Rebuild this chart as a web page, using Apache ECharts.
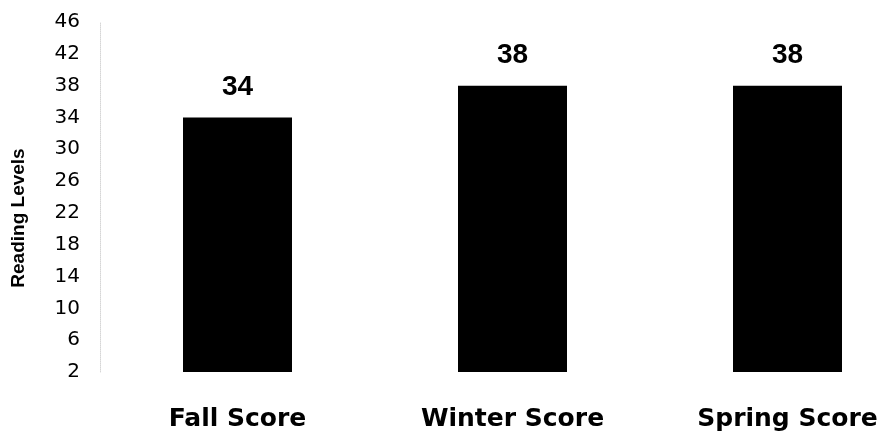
<!DOCTYPE html>
<html>
<head>
<meta charset="utf-8">
<script src="https://cdn.jsdelivr.net/npm/echarts@6/dist/echarts.min.js"></script>
<style>
  html, body { margin: 0; padding: 0; background: #fff; }
  #chart { width: 885px; height: 439px; }
</style>
</head>
<body>
<div id="chart"></div>
<script>
// Reading level scores by term
const categories = ['Fall Score', 'Winter Score', 'Spring Score'];
const readingLevels = [34, 38, 38];
const axisMin = 2;
const axisMax = 46;
const axisStep = 4;

const FONT = "'Liberation Sans', Arial, sans-serif";
const WIDE_FONT = "'DejaVu Sans', Verdana, sans-serif";

const chart = echarts.init(document.getElementById('chart'));
chart.setOption({
  backgroundColor: '#ffffff',
  animation: false,
  grid: {
    left: 100, right: -40, top: 22, bottom: 67,
    containLabel: false,
    outerBoundsMode: 'none'
  },
  xAxis: {
    type: 'category',
    data: categories,
    axisLine: { show: false },
    axisTick: { show: false },
    axisLabel: {
      margin: 35,
      color: '#000',
      fontFamily: WIDE_FONT,
      fontWeight: 'bold',
      fontSize: 25
    }
  },
  yAxis: {
    type: 'value',
    min: axisMin,
    max: axisMax,
    interval: axisStep,
    name: 'Reading Levels',
    nameLocation: 'middle',
    nameGap: 72,
    nameTextStyle: {
      color: '#000',
      fontFamily: FONT,
      fontWeight: 'bold',
      fontSize: 19,
      padding: [0, 42, 0, 0]
    },
    axisLine: { show: true, lineStyle: { color: '#d6d6d6', type: 'dotted', width: 1 } },
    axisTick: { show: false },
    splitLine: { show: false },
    axisLabel: {
      margin: 20,
      color: '#000',
      fontFamily: WIDE_FONT,
      fontSize: 20
    }
  },
  series: [{
    type: 'bar',
    data: readingLevels,
    barWidth: 109,
    itemStyle: { color: '#000' },
    label: {
      show: true,
      position: 'top',
      distance: 16,
      color: '#000',
      fontFamily: FONT,
      fontWeight: 'bold',
      fontSize: 28
    }
  }]
});
</script>
</body>
</html>
